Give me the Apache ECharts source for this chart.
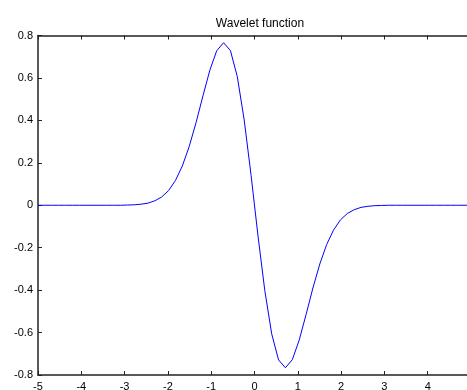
<!DOCTYPE html>
<html>
<head>
<meta charset="utf-8">
<script src="https://cdn.jsdelivr.net/npm/echarts@6/dist/echarts.min.js"></script>
<style>
html,body{margin:0;padding:0;background:#fff;}
#chart{width:467px;height:390px;}
</style>
</head>
<body>
<div id="chart"></div>
<script>
var titleText = 'Wavelet function';
var xValues = [-5, -4.841, -4.683, -4.524, -4.365, -4.206, -4.048, -3.889, -3.730, -3.571,
  -3.413, -3.254, -3.095, -2.937, -2.778, -2.619, -2.460, -2.302, -2.143, -1.984,
  -1.825, -1.667, -1.508, -1.349, -1.190, -1.032, -0.873, -0.714, -0.556, -0.397,
  -0.238, -0.079, 0.079, 0.238, 0.397, 0.556, 0.714, 0.873, 1.032, 1.190,
  1.349, 1.508, 1.667, 1.825, 1.984, 2.143, 2.302, 2.460, 2.619, 2.778,
  2.937, 3.095, 3.254, 3.413, 3.571, 3.730, 3.889, 4.048, 4.206, 4.365,
  4.524, 4.683, 4.841, 5];
var psiValues = [0, 0, 0, 0, 0, 0, 0, 0, 0, 0,
  0, 0, 0, 0.001, 0.002, 0.005, 0.010, 0.021, 0.039, 0.069,
  0.117, 0.185, 0.277, 0.390, 0.516, 0.636, 0.728, 0.766, 0.729, 0.606,
  0.402, 0.141, -0.141, -0.402, -0.606, -0.729, -0.766, -0.728, -0.636, -0.516,
  -0.390, -0.277, -0.185, -0.117, -0.069, -0.039, -0.021, -0.010, -0.005, -0.002,
  -0.001, 0, 0, 0, 0, 0, 0, 0, 0, 0,
  0, 0, 0, 0];
var xTicks = [-5, 5, 1];
var yTicks = [-0.8, 0.8, 0.2];

var pts = xValues.map(function (x, i) { return [x, psiValues[i]]; });
var font = 'Liberation Sans, Arial, sans-serif';
var axisLineStyle = { color: '#222', width: 1.5 };

var chart = echarts.init(document.getElementById('chart'), null, { renderer: 'canvas' });
chart.setOption({
  backgroundColor: '#fff',
  animation: false,
  title: {
    text: titleText, left: 255, textAlign: 'center', top: 13,
    textStyle: { fontFamily: font, fontSize: 12, fontWeight: 'normal', color: '#000' }
  },
  grid: { left: 38, right: -4, top: 35.5, bottom: 15, containLabel: false, outerBoundsMode: 'none' },
  xAxis: [{
    type: 'value', min: xTicks[0], max: xTicks[1], interval: xTicks[2],
    position: 'bottom',
    axisLine: { show: true, onZero: false, lineStyle: axisLineStyle },
    axisTick: { show: true, inside: true, length: 4, lineStyle: { color: '#222', width: 1 } },
    axisLabel: { show: true, margin: 6, color: '#000', fontFamily: font, fontSize: 11 },
    splitLine: { show: false }
  }, {
    type: 'value', min: xTicks[0], max: xTicks[1], interval: xTicks[2],
    position: 'top',
    axisLine: { show: true, onZero: false, lineStyle: axisLineStyle },
    axisTick: { show: true, inside: true, length: 4, lineStyle: { color: '#222', width: 1 } },
    axisLabel: { show: false },
    splitLine: { show: false }
  }],
  yAxis: [{
    type: 'value', min: yTicks[0], max: yTicks[1], interval: yTicks[2],
    axisLine: { show: true, onZero: false, lineStyle: axisLineStyle },
    axisTick: { show: true, inside: true, length: 4, lineStyle: { color: '#222', width: 1 } },
    axisLabel: {
      show: true, margin: 5, color: '#000', fontFamily: font, fontSize: 11,
      formatter: function (v) { return String(Math.round(v * 10) / 10); }
    },
    splitLine: { show: false }
  }],
  series: [{
    type: 'line', data: pts, xAxisIndex: 0, yAxisIndex: 0,
    showSymbol: false, smooth: false,
    lineStyle: { color: '#0000ff', width: 1 },
    clip: true
  }]
});
</script>
</body>
</html>
